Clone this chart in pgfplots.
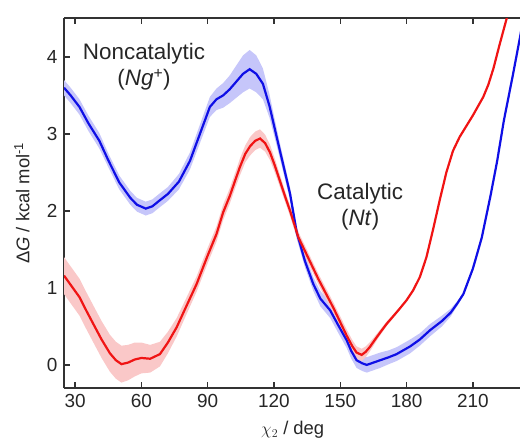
\documentclass[border=0pt]{standalone}
\usepackage{pgfplots}
\pgfplotsset{compat=1.18}
\usepackage{pgfplotstable}
\usepgfplotslibrary{fillbetween}
\usepackage{fontspec}
\setmainfont{Liberation Sans}
\definecolor{bline}{RGB}{15,15,230}
\definecolor{bband}{RGB}{198,198,250}
\definecolor{rline}{RGB}{240,20,20}
\definecolor{rband}{RGB}{250,200,200}
\definecolor{axgray}{RGB}{50,50,50}

\pgfplotstableread{
x y e
25 3.60 0.10
28 3.50 0.10
32 3.35 0.10
36 3.14 0.10
41 2.91 0.10
45 2.66 0.09
50 2.37 0.09
55 2.17 0.09
58 2.08 0.09
62 2.03 0.09
65 2.06 0.09
68 2.13 0.09
72 2.22 0.09
77 2.38 0.10
82 2.65 0.11
86.5 3.00 0.12
91 3.35 0.13
94 3.45 0.14
97 3.50 0.16
100 3.58 0.18
103 3.68 0.21
106 3.78 0.24
109 3.84 0.25
112 3.78 0.24
115 3.65 0.20
118 3.36 0.15
120.5 3.05 0.12
122.7 2.78 0.10
125 2.50 0.09
127.3 2.22 0.08
130.3 1.72 0.08
134 1.35 0.08
137.8 1.05 0.09
141 0.86 0.10
145.4 0.71 0.10
149 0.52 0.10
152.9 0.32 0.10
155 0.18 0.10
157.4 0.06 0.10
160 0.02 0.10
162 0.00 0.10
165 0.03 0.10
168 0.06 0.10
172 0.10 0.09
175.5 0.14 0.09
181.6 0.24 0.09
186 0.33 0.08
190.6 0.45 0.08
196 0.57 0.07
200 0.68 0.05
203 0.80 0.03
205.7 0.92 0.02
210 1.25 0.01
214 1.65 0.01
218 2.20 0
221 2.65 0
224 3.17 0
228 3.75 0
231.3 4.25 0
234 4.70 0
}\noncat

\pgfplotstableread{
x y e
25 1.16 0.24
28.5 1.02 0.24
32 0.88 0.24
35 0.71 0.24
38.3 0.53 0.24
42 0.33 0.24
45.8 0.15 0.24
48.5 0.06 0.24
51 0.01 0.24
54 0.03 0.23
57 0.07 0.22
60 0.09 0.20
64 0.08 0.18
68.4 0.14 0.16
72 0.29 0.14
76 0.49 0.12
80 0.74 0.11
85 1.05 0.10
90 1.42 0.10
94 1.70 0.10
97 1.98 0.10
100.1 2.20 0.10
102.5 2.40 0.10
104.6 2.57 0.11
107 2.74 0.11
109.2 2.84 0.12
111.5 2.91 0.12
113.7 2.94 0.12
116 2.88 0.11
118.2 2.76 0.10
120.5 2.58 0.09
122.7 2.39 0.08
125 2.19 0.07
127.3 2.00 0.07
131 1.66 0.07
135 1.42 0.07
140 1.12 0.07
146.9 0.74 0.07
152.9 0.38 0.08
155.5 0.24 0.08
157.4 0.16 0.08
159.7 0.13 0.08
161.5 0.17 0.07
163.3 0.23 0.06
167 0.38 0.04
170.9 0.53 0.03
176 0.70 0.02
180 0.84 0.01
183 0.97 0
186 1.14 0
189 1.40 0
192 1.76 0
195 2.14 0
198 2.50 0
201 2.78 0
204 2.96 0
207 3.10 0
210 3.24 0
214.7 3.48 0
217 3.64 0
219.3 3.85 0
222 4.15 0
225.3 4.50 0
228 4.80 0
}\cat

\begin{document}
\begin{tikzpicture}
\begin{axis}[
  scale only axis,
  width=457.5bp, height=369.6bp,
  xmin=25, xmax=232, ymin=-0.3, ymax=4.5,
  axis x line*=box, axis y line*=left,
  axis line style={draw=axgray, line width=2bp},
  tick style={draw=axgray, line width=1.5bp},
  major tick length=6bp,
  tick align=inside,
  xtick={30,60,90,120,150,180,210},
  ytick={0,1,2,3,4},
  /pgf/number format/assume math mode=true,
  tick label style={font=\fontsize{19}{21}\selectfont, text=black!85},
  yticklabel style={xshift=-3bp},
  xticklabel style={yshift=-3bp},
  xlabel={$\chi_2$ / deg},
  ylabel={Δ\textit{G} / kcal mol\textsuperscript{-1}},
  label style={font=\fontsize{18.5}{20}\selectfont, text=black!85},
  xlabel style={at={(axis description cs:0.5,-0.113)}, anchor=center},
  ylabel style={at={(axis description cs:-0.092,0.5)}, anchor=center},
  clip=true,
]
\addplot[draw=none, name path=bu, forget plot] table[x=x, y expr=\thisrow{y}+\thisrow{e}]{\noncat};
\addplot[draw=none, name path=bl, forget plot] table[x=x, y expr=\thisrow{y}-\thisrow{e}]{\noncat};
\addplot[draw=none, name path=ru, forget plot] table[x=x, y expr=\thisrow{y}+\thisrow{e}]{\cat};
\addplot[draw=none, name path=rl, forget plot] table[x=x, y expr=\thisrow{y}-\thisrow{e}]{\cat};
\addplot[fill=bband, draw=none] fill between[of=bu and bl];
\addplot[fill=rband, draw=none] fill between[of=ru and rl];
\addplot[bline, line width=2.2bp] table[x=x, y=y]{\noncat};
\addplot[rline, line width=2.2bp] table[x=x, y=y]{\cat};
\node[font=\fontsize{22.5}{26}\selectfont, text=black!85, align=center] at (axis cs:61.2,3.87) {Noncatalytic\\(\textit{Ng}\textsuperscript{+})};
\node[font=\fontsize{22.5}{26}\selectfont, text=black!85, align=center] at (axis cs:159,2.05) {Catalytic\\(\textit{Nt})};
\end{axis}
\pgfresetboundingbox
\path (current axis.south west) ++(-64bp,-52bp) rectangle ++(520bp,440bp);
\end{tikzpicture}
\end{document}
